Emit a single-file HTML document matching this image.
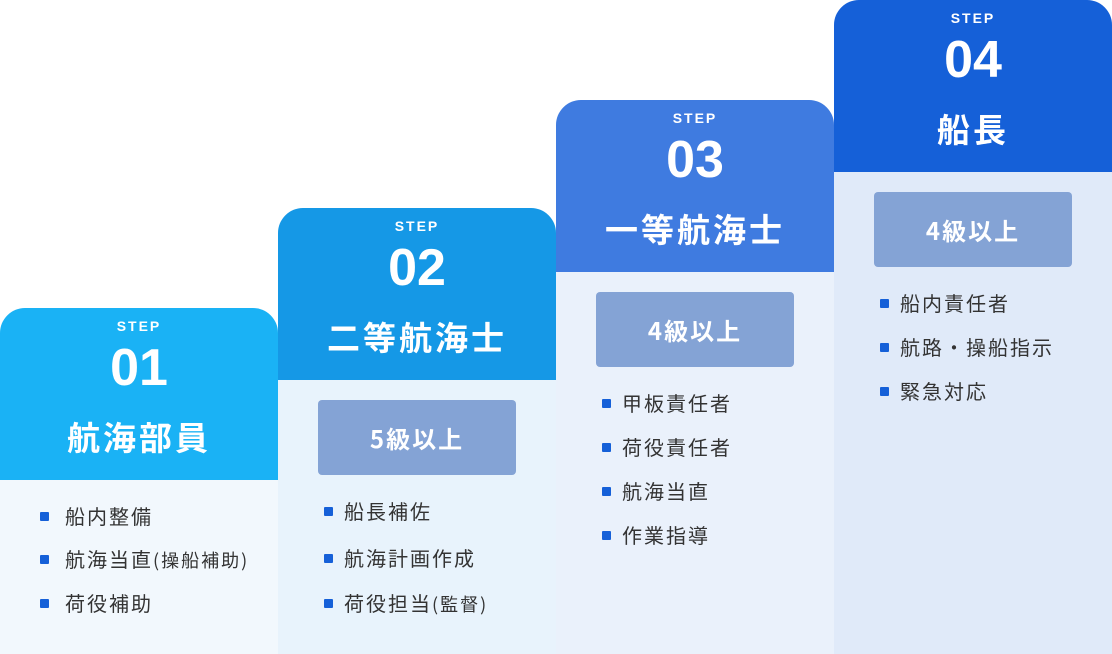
<!DOCTYPE html>
<html><head><meta charset="utf-8"><style>
*{margin:0;padding:0;box-sizing:border-box}
body{width:1112px;height:654px;background:#fff;position:relative;overflow:hidden;font-family:"Liberation Sans","Noto Sans CJK JP",sans-serif}
.col{position:absolute;width:278px;bottom:0;border-radius:25px 25px 0 0;overflow:hidden}
.hd{height:172px;position:relative;color:#fff;text-align:center}
.step{position:absolute;top:10px;left:0;right:0;font-size:14px;font-weight:bold;letter-spacing:2px}
.num{position:absolute;top:28px;left:0;right:0;font-size:52px;font-weight:bold;line-height:64px}
.tt{position:absolute;top:106px;left:0;right:0;font-size:33px;font-weight:bold;line-height:44px;font-family:"Noto Sans CJK JP",sans-serif;letter-spacing:3px}
.bd{position:absolute;top:172px;left:0;right:0;bottom:0}
.badge{position:absolute;left:40px;top:20px;width:198px;height:75px;background:#84a3d5;border-radius:4px;color:#fff;font-size:24px;font-weight:bold;text-align:center;line-height:75px;font-family:"Noto Sans CJK JP",sans-serif;letter-spacing:2px}
.li{position:absolute;left:46px;font-size:20px;color:#333;line-height:30px;font-family:"Noto Sans CJK JP",sans-serif;letter-spacing:2px;white-space:nowrap}
.li:before{content:"";display:inline-block;width:9px;height:9px;background:#1560d8;border-radius:1px;margin-right:11px;vertical-align:middle;position:relative;top:-2px}
.c1 .li{left:40px}
.c1 .li:before{margin-right:16px}
.sm{font-size:18px;letter-spacing:2px}
</style></head><body>
<div class="col c1" style="left:0;top:308px;background:#f2f8fd">
<div class="hd" style="background:#1ab2f5"><div class="step">STEP</div><div class="num">01</div><div class="tt">航海部員</div></div>
<div class="bd"><div class="li" style="top:21px">船内整備</div><div class="li" style="top:64px">航海当直<span class="sm">(操船補助)</span></div><div class="li" style="top:108px">荷役補助</div></div>
</div>
<div class="col" style="left:278px;top:208px;background:#e8f3fc">
<div class="hd" style="background:#1598e6"><div class="step">STEP</div><div class="num">02</div><div class="tt">二等航海士</div></div>
<div class="bd"><div class="badge">5級以上</div><div class="li" style="top:116px">船長補佐</div><div class="li" style="top:163px">航海計画作成</div><div class="li" style="top:208px">荷役担当<span class="sm">(監督)</span></div></div>
</div>
<div class="col" style="left:556px;top:100px;background:#eaf1fb">
<div class="hd" style="background:#3f7be0"><div class="step">STEP</div><div class="num">03</div><div class="tt">一等航海士</div></div>
<div class="bd"><div class="badge">4級以上</div><div class="li" style="top:116px">甲板責任者</div><div class="li" style="top:160px">荷役責任者</div><div class="li" style="top:204px">航海当直</div><div class="li" style="top:248px">作業指導</div></div>
</div>
<div class="col" style="left:834px;top:0;background:#e0eaf9">
<div class="hd" style="background:#1560d8"><div class="step">STEP</div><div class="num">04</div><div class="tt">船長</div></div>
<div class="bd"><div class="badge">4級以上</div><div class="li" style="top:116px">船内責任者</div><div class="li" style="top:160px">航路・操船指示</div><div class="li" style="top:204px">緊急対応</div></div>
</div>
</body></html>
